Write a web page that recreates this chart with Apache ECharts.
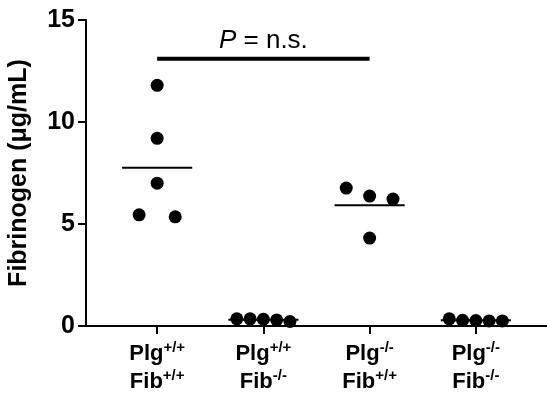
<!DOCTYPE html>
<html>
<head>
<meta charset="utf-8">
<script src="https://cdn.jsdelivr.net/npm/echarts@6/dist/echarts.min.js"></script>
<style>
  html, body { margin: 0; padding: 0; background: #fff; }
  #chart { width: 547px; height: 393px; }
</style>
</head>
<body>
<div id="chart"></div>
<script>
// groups on the x axis
const groupTop = ['+/+', '+/+', '-/-', '-/-'] // Plg
const groupBottom = ['+/+', '-/-', '+/+', '-/-'] // Fib

// fibrinogen values (µg/mL)
const plgWtFibWt = [11.8, 9.2, 7.0, 5.45, 5.35]
const plgWtFibKo = [0.35, 0.35, 0.33, 0.3, 0.22]
const plgKoFibWt = [6.76, 6.37, 6.22, 4.31]
const plgKoFibKo = [0.35, 0.28, 0.27, 0.25, 0.25]

// horizontal spread of the dots inside each group
const spread5 = [0, 0, 0, -0.17, 0.17]
const spreadRow = [-0.25, -0.125, 0, 0.125, 0.25]
const spread4 = [-0.22, 0, 0.22, 0]

const yTicks = [0, 5, 10, 15]
const sigLabel = 'n.s.'
const sigLevel = 13.1 // height of the comparison bar
const sigFrom = 0
const sigTo = 2

const groups = [plgWtFibWt, plgWtFibKo, plgKoFibWt, plgKoFibKo]
const spreads = [spread5, spreadRow, spread4, spreadRow]

const font = 'Liberation Sans, Arial, sans-serif'

const points = []
groups.forEach((vals, gi) => {
  vals.forEach((v, k) => points.push([gi + spreads[gi][k], v]))
})
const means = groups.map((vals, gi) => [gi, vals.reduce((a, b) => a + b, 0) / vals.length])

const chart = echarts.init(document.getElementById('chart'))

chart.setOption({
  backgroundColor: '#fff',
  animation: false,
  grid: { left: 86, right: 0, top: 20, bottom: 67, outerBoundsMode: 'none', containLabel: false },
  xAxis: {
    type: 'value',
    min: -0.67,
    max: 3.67,
    splitLine: { show: false },
    axisLine: { lineStyle: { color: '#000', width: 2 } },
    axisTick: {
      customValues: [0, 1, 2, 3],
      length: 8,
      lineStyle: { color: '#000', width: 2 }
    },
    axisLabel: {
      customValues: [0, 1, 2, 3],
      margin: 14,
      formatter: v => {
        const i = Math.round(v)
        return '{b|Plg}{s|' + groupTop[i] + '}\n{b|Fib}{s|' + groupBottom[i] + '}'
      },
      rich: {
        b: { fontFamily: font, fontSize: 22, fontWeight: 'bold', color: '#000', lineHeight: 28 },
        s: { fontFamily: font, fontSize: 15, fontWeight: 'bold', color: '#000', verticalAlign: 'top', lineHeight: 15 }
      }
    }
  },
  yAxis: {
    type: 'value',
    min: 0,
    max: 15,
    interval: 5,
    name: 'Fibrinogen (\u03bcg/mL)',
    nameLocation: 'middle',
    nameGap: 54,
    nameTextStyle: { fontFamily: font, fontSize: 25, fontWeight: 'bold', color: '#000' },
    splitLine: { show: false },
    axisLine: { show: true, onZero: false, lineStyle: { color: '#000', width: 2 } },
    axisTick: { show: true, length: 8, lineStyle: { color: '#000', width: 2 } },
    axisLabel: {
      margin: 11,
      fontFamily: font,
      fontSize: 25,
      fontWeight: 'bold',
      color: '#000',
      formatter: v => (yTicks.includes(v) ? String(v) : '')
    }
  },
  series: [
    {
      type: 'custom',
      data: means,
      z: 1,
      renderItem: (params, api) => {
        const gi = api.value(0)
        const m = api.value(1)
        const a = api.coord([gi - 0.33, m])
        const b = api.coord([gi + 0.33, m])
        return {
          type: 'line',
          shape: { x1: a[0], y1: a[1], x2: b[0], y2: b[1] },
          style: { stroke: '#000', lineWidth: 2 }
        }
      }
    },
    {
      type: 'scatter',
      data: points,
      symbol: 'circle',
      symbolSize: 13,
      z: 3,
      itemStyle: { color: '#000', opacity: 1 }
    },
    {
      type: 'custom',
      data: [[sigFrom, sigTo, sigLevel]],
      z: 2,
      renderItem: (params, api) => {
        const a = api.coord([api.value(0), api.value(2)])
        const b = api.coord([api.value(1), api.value(2)])
        return {
          type: 'group',
          children: [
            {
              type: 'line',
              shape: { x1: a[0], y1: a[1], x2: b[0], y2: b[1] },
              style: { stroke: '#000', lineWidth: 4 }
            },
            {
              type: 'text',
              x: (a[0] + b[0]) / 2,
              y: a[1] - 18,
              style: {
                text: '{i|P} = ' + sigLabel,
                align: 'center',
                verticalAlign: 'middle',
                fontFamily: font,
                fontSize: 26,
                fill: '#000',
                rich: {
                  i: { fontFamily: font, fontSize: 26, fontStyle: 'italic', fill: '#000' }
                }
              }
            }
          ]
        }
      }
    }
  ]
})
</script>
</body>
</html>
